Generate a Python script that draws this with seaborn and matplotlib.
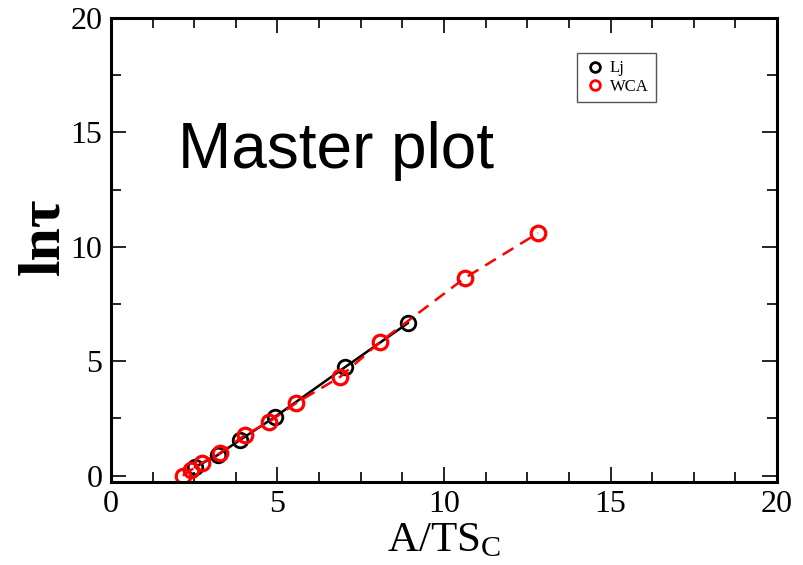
import matplotlib
matplotlib.use("Agg")
import matplotlib.pyplot as plt
from matplotlib.lines import Line2D
from matplotlib.ticker import MultipleLocator
import seaborn as sns
import pandas as pd

# Data
lj_x = [2.52, 3.21, 3.87, 4.92, 7.03, 8.92]
lj_y = [0.37, 0.90, 1.55, 2.56, 4.74, 6.67]
wca_x = [2.16, 2.40, 2.73, 3.27, 4.02, 4.74, 5.56, 6.88, 8.08, 10.63, 12.82]
wca_y = [0.00, 0.24, 0.55, 0.98, 1.77, 2.34, 3.17, 4.31, 5.84, 8.64, 10.60]
series_names = ["Lj", "WCA"]
x_ticks = [0, 5, 10, 15, 20]
y_ticks = [0, 5, 10, 15, 20]

sns.set_style("ticks")
plt.rcParams["font.family"] = ["Liberation Serif", "DejaVu Serif"]
plt.rcParams["mathtext.fontset"] = "custom"
plt.rcParams["mathtext.rm"] = "Liberation Serif"
plt.rcParams["mathtext.it"] = "Liberation Serif:italic"
plt.rcParams["text.color"] = "black"
plt.rcParams["axes.labelcolor"] = "black"

fig = plt.figure(figsize=(8.04, 5.65), dpi=100)
ax = fig.add_axes([0.138, 0.147, 0.8285, 0.821])

df_lj = pd.DataFrame({"x": lj_x, "y": lj_y})
df_wca = pd.DataFrame({"x": wca_x, "y": wca_y})

sns.lineplot(data=df_lj, x="x", y="y", sort=False, color="black", lw=1.8,
             marker="o", ms=10.5, mfc="none", mec="black", mew=2.0, ax=ax, legend=False)
sns.lineplot(data=df_wca, x="x", y="y", sort=False, color="red", lw=1.8,
             ax=ax, legend=False)
ax.lines[-1].set_dashes([5, 3.2])
sns.lineplot(data=df_wca, x="x", y="y", sort=False, color="red", lw=0,
             marker="o", ms=10.5, mfc="none", mec="red", mew=2.3, ax=ax, legend=False)

ax.set_xlim(0, 20)
ax.set_ylim(-0.28, 20)
ax.set_xticks(x_ticks)
ax.set_yticks(y_ticks)
ax.xaxis.set_minor_locator(MultipleLocator(1.25))
ax.yaxis.set_minor_locator(MultipleLocator(2.5))
ax.tick_params(which="both", direction="in", top=True, right=True, width=1.2, colors="black")
ax.tick_params(which="major", length=11, labelsize=23, pad=6)
ax.tick_params(which="minor", length=7)
for s in ax.spines.values():
    s.set_linewidth(2.2)
    s.set_color("black")

ax.set_xlabel(r"A/TS$_{\mathrm{C}}$", fontsize=31, labelpad=2)
ax.set_ylabel("lnτ", fontsize=43, fontweight="bold")
ax.yaxis.set_label_coords(-0.059, 0.53)

ax.text(0.1, 0.677, "Master plot", transform=ax.transAxes, fontsize=46,
        family=["Liberation Sans", "DejaVu Sans"], color="black", ha="left", va="baseline")

handles = [Line2D([], [], ls="none", marker="o", ms=7, mfc="none", mec="black", mew=2),
           Line2D([], [], ls="none", marker="o", ms=7, mfc="none", mec="red", mew=2)]
leg = ax.legend(handles, series_names, loc="upper left", bbox_to_anchor=(0.70, 0.925),
                fontsize=12, frameon=True, fancybox=False, framealpha=1,
                edgecolor="#555555", borderpad=0.45, handletextpad=0.3, labelspacing=0.15,
                handlelength=1.2, borderaxespad=0)
leg.get_frame().set_linewidth(1.0)

fig.savefig("out.png", dpi=100)
